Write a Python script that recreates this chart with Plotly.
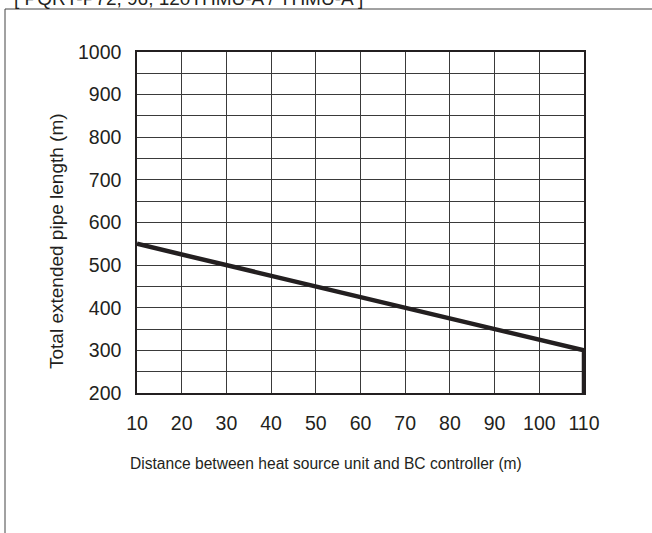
import plotly.graph_objects as go

# Data
distance = [10, 110, 110]          # Distance between heat source unit and BC controller (m)
pipe_length = [550, 300, 200]      # Total extended pipe length (m)

x_ticks = [10, 20, 30, 40, 50, 60, 70, 80, 90, 100, 110]
y_ticks = [200, 250, 300, 350, 400, 450, 500, 550, 600, 650, 700, 750, 800, 850, 900, 950, 1000]
y_tick_labels = ["200", "", "300", "", "400", "", "500", "", "600", "", "700", "", "800", "", "900", "", "1000"]

title_text = "[ PQRY-P72, 96, 120THMU-A / YHMU-A ]"
x_title = "Distance between heat source unit and BC controller (m)"
y_title = "Total extended pipe length (m)"

W, H = 652, 533
L, R, T, B = 137, 68, 52, 140
pw, ph = W - L - R, H - T - B

def px_x(p):
    return (p - L) / pw

def px_y(p):
    return (H - B - p) / ph

font_family = "Liberation Sans, Arial, sans-serif"
ink = "#231f20"
grid_color = "#3a3a3a"

fig = go.Figure()
fig.add_trace(go.Scatter(
    x=distance, y=pipe_length, mode="lines",
    line=dict(color=ink, width=4.5),
    hoverinfo="skip", showlegend=False, cliponaxis=False,
))

fig.update_layout(
    width=W, height=H,
    margin=dict(l=L, r=R, t=T, b=B, pad=0),
    paper_bgcolor="white", plot_bgcolor="white",
    font=dict(family=font_family, color=ink),
    xaxis=dict(
        range=[10, 110], tickvals=x_ticks, ticktext=[str(v) for v in x_ticks],
        showgrid=True, gridcolor=grid_color, gridwidth=1.3,
        zeroline=False, showline=True, linecolor=ink, linewidth=1.5, mirror=True,
        ticks="", tickfont=dict(size=19.5, color=ink),
        ticklabelstandoff=12,
    ),
    yaxis=dict(
        range=[200, 1000], tickvals=y_ticks, ticktext=y_tick_labels,
        showgrid=True, gridcolor=grid_color, gridwidth=1.3,
        zeroline=False, showline=True, linecolor=ink, linewidth=1.5, mirror=True,
        ticks="", tickfont=dict(size=19.5, color=ink),
        ticklabelstandoff=10,
    ),
    shapes=[
        dict(type="rect", xref="paper", yref="paper",
             x0=px_x(5), x1=px_x(700), y0=px_y(600), y1=px_y(9),
             line=dict(color="#444444", width=1), fillcolor="rgba(0,0,0,0)", layer="below"),
    ],
    annotations=[
        dict(text=title_text, xref="paper", yref="paper",
             x=px_x(12), y=px_y(-1), xanchor="left", yanchor="middle",
             showarrow=False, font=dict(size=19, color=ink)),
        dict(text=x_title, xref="paper", yref="paper",
             x=px_x(326), y=px_y(463), xanchor="center", yanchor="middle",
             showarrow=False, font=dict(size=15.6, color=ink)),
        dict(text=y_title, xref="paper", yref="paper", textangle=-90,
             x=px_x(57), y=px_y(241), xanchor="center", yanchor="middle",
             showarrow=False, font=dict(size=19, color=ink)),
    ],
)

fig.write_html("out.html", config={"displayModeBar": False},
               post_script="document.body.style.margin='0';")
